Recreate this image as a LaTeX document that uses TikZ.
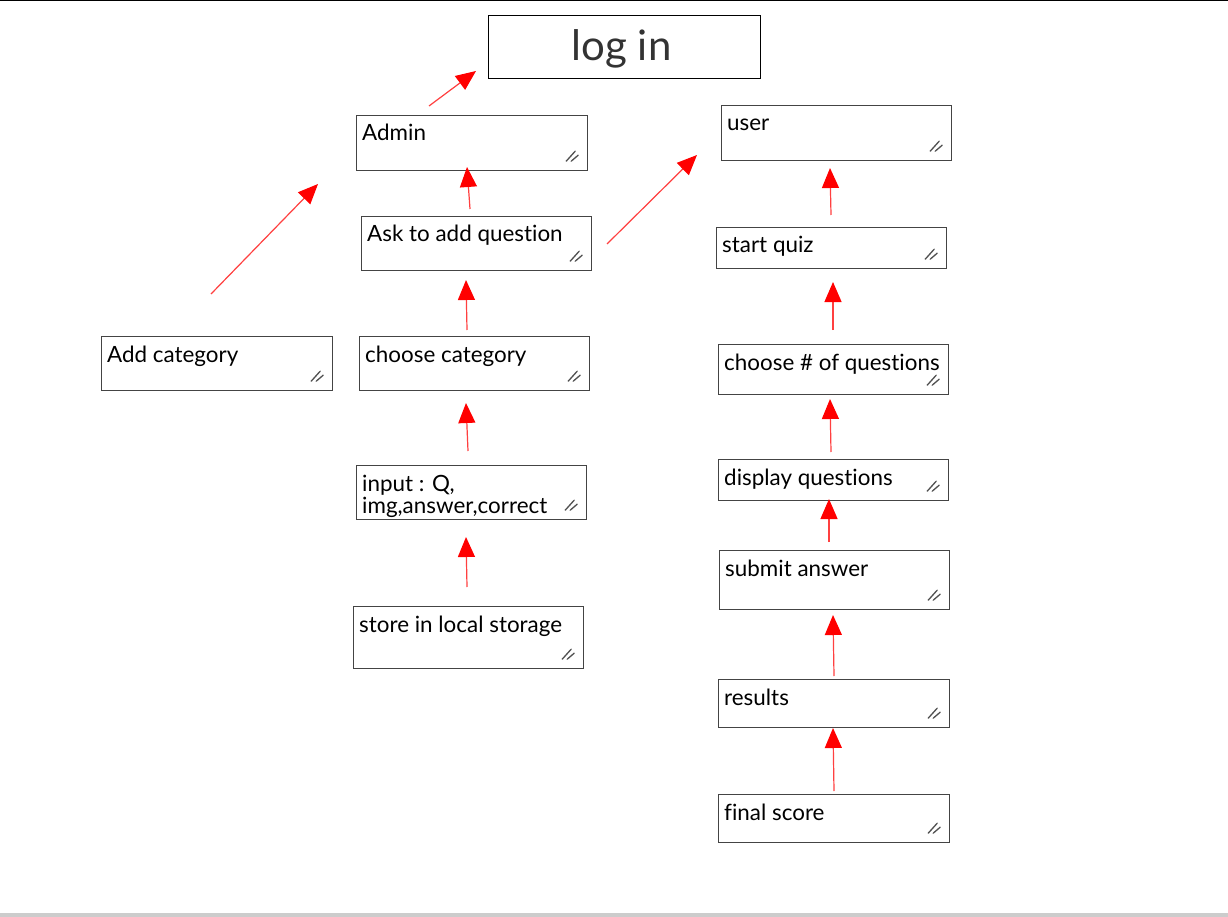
\documentclass[tikz,border=0pt]{standalone}
\usepackage{fontspec}
\setmainfont{Lato}[Ligatures={NoCommon}]
\usetikzlibrary{arrows.meta,calc}
\definecolor{boxgray}{HTML}{444444}
\definecolor{gripgray}{HTML}{505050}
\definecolor{titlegray}{HTML}{333333}
\definecolor{flowred}{HTML}{FF4040}
\definecolor{rulegray}{HTML}{CCCCCC}

\tikzset{
  panel/.style={draw=boxgray, line width=1.2pt, anchor=north west, inner sep=0pt},
  paneltext/.style={anchor=base west, inner sep=0pt, align=left,
    font=\fontsize{22.4}{22}\selectfont, text=black},
  grip/.style={draw=gripgray, line width=1.3pt, line cap=round},
  flow/.style={draw=flowred, line width=1.2pt,
    -{Triangle[length=20pt,width=17pt,color=red,fill=red]}},
}

% a text panel: [baseline of last text line], name, left, top, width, height, text
\newcommand\panelbox[7][26]{%
  \node[panel, minimum width=#5, minimum height=#6] (#2) at (#3,#4) {};
  \node[paneltext] (#2-t) at ($(#2.north west)+(6,#1)$) {#7};
  \draw[grip] ($(#2.south east)+(-22,-10)$) -- ($(#2.south east)+(-13,-20)$);
  \draw[grip] ($(#2.south east)+(-17,-10)$) -- ($(#2.south east)+(-10,-16)$);
}

\begin{document}
\begin{tikzpicture}[x=1pt,y=-1pt]
\useasboundingbox (0,0) rectangle (1228,917);
\fill[white] (0,0) rectangle (1228,917);

% frame rules
\fill[black] (0,0) rectangle (1228,1.5);
\fill[rulegray] (0,913) rectangle (1228,917);

% title
\node[draw=black, line width=1.2pt, anchor=north west, minimum width=272,
  minimum height=63, inner sep=0pt] (login) at (488,15) {};
\node[text=titlegray, font=\fontsize{42}{46}\selectfont, inner sep=0pt]
  (login-t) at ($(login.center)+(-3,2)$) {log in};

% admin branch
\panelbox{admin}{356}{115}{231}{55}{Admin}
\panelbox{ask}{361}{216}{230}{54}{Ask to add question}
\panelbox{addcat}{101}{336}{231}{54}{Add category}
\panelbox{choosecat}{359}{336}{230}{54}{choose category}
\panelbox[48]{input}{356}{465}{230}{54}{input : Q,\\img,answer,correct}
\panelbox{store}{353}{606}{230}{62}{store in local storage}

% user branch
\panelbox{user}{721}{105}{230}{55}{user}
\panelbox{start}{716}{227}{230}{41}{start quiz}
\panelbox{numq}{718}{344}{230}{50}{choose \# of questions}
\panelbox{display}{718}{459}{230}{41}{display questions}
\panelbox{submit}{719}{550}{230}{59}{submit answer}
\panelbox{results}{718}{679}{231}{48}{results}
\panelbox{final}{718}{794}{231}{48}{final score}

% arrow ends
\coordinate (a1s) at (429,106); \coordinate (a1e) at (476,71);
\coordinate (a2s) at (211,294); \coordinate (a2e) at (318,184);
\coordinate (a3s) at (470,209); \coordinate (a3e) at (467,167);
\coordinate (a4s) at (607,244); \coordinate (a4e) at (697,155);
\coordinate (a5s) at (467,330); \coordinate (a5e) at (466,280);
\coordinate (a6s) at (468,451); \coordinate (a6e) at (466,403);
\coordinate (a7s) at (467,587); \coordinate (a7e) at (466,537);
\coordinate (b1s) at (831,215); \coordinate (b1e) at (830,168);
\coordinate (b2s) at (833,330); \coordinate (b2e) at (833,282);
\coordinate (b3s) at (831,452); \coordinate (b3e) at (830,399);
\coordinate (b4s) at (829,542); \coordinate (b4e) at (829,499);
\coordinate (b5s) at (834,676); \coordinate (b5e) at (833,615);
\coordinate (b6s) at (834,791); \coordinate (b6e) at (833,728);

\foreach \a in {a1,a2,a3,a4,a5,a6,a7,b1,b2,b3,b4,b5,b6}
  \draw[flow] (\a s) -- (\a e);
\end{tikzpicture}
\end{document}
